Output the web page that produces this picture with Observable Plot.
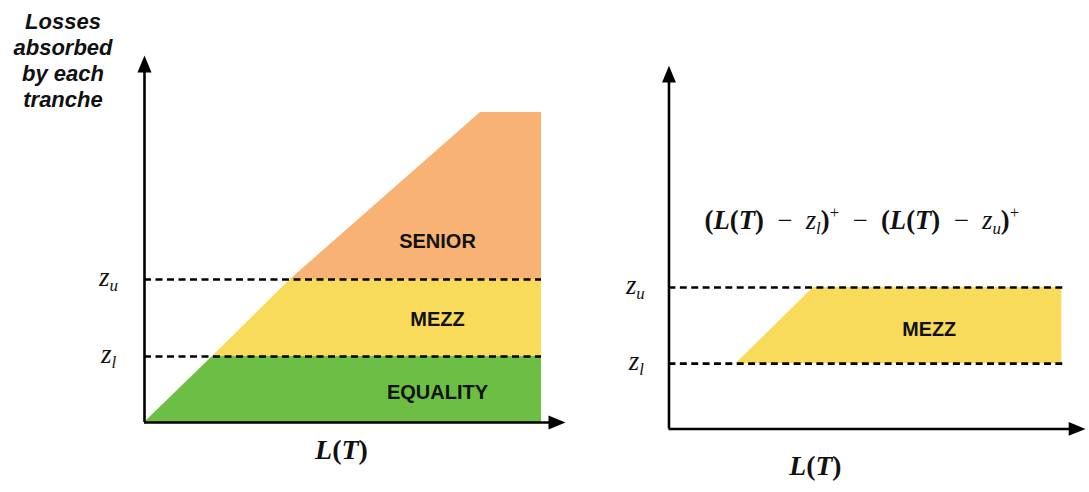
<!DOCTYPE html>
<html><head><meta charset="utf-8">
<script src="https://cdn.jsdelivr.net/npm/d3@7"></script>
<script src="https://cdn.jsdelivr.net/npm/@observablehq/plot@0.6"></script>
<style>
html,body{margin:0;padding:0;background:#fff;overflow:hidden;}
#wrap{position:relative;width:1089px;height:492px;overflow:hidden;}
.panel{position:absolute;top:0;}
#title{position:absolute;left:0;top:9px;width:126px;text-align:center;font:italic bold 22px/26px "Liberation Sans",Arial,sans-serif;color:#111;}
</style></head><body>
<div id="wrap">
  <div id="title">Losses<br>absorbed<br>by each<br>tranche</div>
  <div class="panel" id="left" style="left:0"></div>
  <div class="panel" id="right" style="left:526px"></div>
</div>
<script>
// ---- data (units of loss L(T)) ----
const lossX = [0, 68, 146, 336, 397];      // L(T)
const lossY = [0, 66, 143, 310, 310];      // total losses absorbed (capped by pool)
const zl = 66;                              // lower attachment
const zu = 143;                             // upper attachment
const xAxisMax = 421;
const yAxisMax = 367;
const trancheNames = ["EQUALITY", "MEZZ", "SENIOR"];
const trancheColors = ["#6DBE45", "#F9DB5B", "#F8B273"];

const pts = lossX.map((x, i) => ({x, y: lossY[i]}));
const clamp = (v, a, b) => Math.max(a, Math.min(b, v));

const arrowUp = {draw(c){ c.moveTo(0,0); c.lineTo(-7,17); c.lineTo(7,17); c.closePath(); }};
const arrowRight = {draw(c){ c.moveTo(0,0); c.lineTo(-17,-7); c.lineTo(-17,7); c.closePath(); }};

function axesMarks() {
  return [
    Plot.ruleX([0], {y1: 0, y2: yAxisMax - 8, stroke: "#000", strokeWidth: 2.6}),
    Plot.ruleY([0], {x1: 0, x2: xAxisMax - 8, stroke: "#000", strokeWidth: 2.6}),
    Plot.dot([{x: 0, y: yAxisMax}], {x: "x", y: "y", symbol: arrowUp, fill: "#000", stroke: "none"}),
    Plot.dot([{x: xAxisMax, y: 0}], {x: "x", y: "y", symbol: arrowRight, fill: "#000", stroke: "none"})
  ];
}
const dashStyle = {stroke: "#000", strokeWidth: 2.6, strokeDasharray: "7,4.5"};
const labelFont = {fontFamily: "Liberation Sans, Arial, sans-serif", fontWeight: "bold", fontSize: 20, fill: "#111"};
const mathFont = {fontFamily: "Liberation Serif, serif", fontSize: 27, fill: "#111"};

// ---- left panel ----
const left = Plot.plot({
  width: 569, height: 492,
  marginLeft: 144, marginRight: 4, marginTop: 55, marginBottom: 70,
  x: {domain: [0, xAxisMax], axis: null},
  y: {domain: [0, yAxisMax], axis: null},
  style: {background: "transparent", overflow: "visible"},
  marks: [
    Plot.areaY(pts, {x: "x", y1: 0, y2: d => Math.min(d.y, zl), fill: trancheColors[0]}),
    Plot.areaY(pts, {x: "x", y1: zl, y2: d => clamp(d.y, zl, zu), fill: trancheColors[1]}),
    Plot.areaY(pts, {x: "x", y1: zu, y2: d => Math.max(d.y, zu), fill: trancheColors[2]}),
    Plot.ruleY([zl, zu], {x1: 0, x2: lossX[lossX.length - 1], ...dashStyle}),
    ...axesMarks(),
    Plot.text([trancheNames[2]], {x: 293, y: 181, ...labelFont}),
    Plot.text([trancheNames[1]], {x: 293, y: (zl + zu) / 2 - 2, ...labelFont}),
    Plot.text([trancheNames[0]], {x: 293, y: zl / 2 - 3, ...labelFont}),
    Plot.text(["§ZU"], {x: -36, y: zu + 2, ...mathFont}),
    Plot.text(["§ZL"], {x: -36, y: zl + 2, ...mathFont}),
    Plot.text(["§LT"], {x: 197, y: -28, ...mathFont, fontSize: 28})
  ]
});
document.getElementById("left").appendChild(left);

// ---- right panel: mezzanine payoff ----
const right = Plot.plot({
  width: 569, height: 492,
  marginLeft: 144, marginRight: 4, marginTop: 66, marginBottom: 59,
  x: {domain: [0, xAxisMax], axis: null},
  y: {domain: [0, yAxisMax], axis: null},
  style: {background: "transparent", overflow: "visible"},
  marks: [
    Plot.areaY(pts, {x: "x", y1: zl, y2: d => clamp(d.y, zl, zu), fill: trancheColors[1]}),
    Plot.ruleY([zl, zu], {x1: 0, x2: lossX[lossX.length - 1] + 3, ...dashStyle}),
    ...axesMarks(),
    Plot.text([trancheNames[1]], {x: 263, y: (zl + zu) / 2 - 4, ...labelFont}),
    Plot.text(["§ZU"], {x: -34, y: zu + 2, ...mathFont}),
    Plot.text(["§ZL"], {x: -33, y: zl + 2, ...mathFont}),
    Plot.text(["§LT"], {x: 148, y: -38, ...mathFont, fontSize: 28}),
    Plot.text(["§F"], {x: 195, y: 211, ...mathFont, fontSize: 27})
  ]
});
document.getElementById("right").appendChild(right);

// ---- math typesetting via tspans ----
const B = s => `<tspan font-weight="bold">${s}</tspan>`;
const BI = s => `<tspan font-weight="bold" font-style="italic">${s}</tspan>`;
const I = s => `<tspan font-style="italic">${s}</tspan>`;
const LofT = BI("L") + B("(") + BI("T") + B(")");
const sp = "\u2002\u2212\u2002";
const math = {
  "§ZU": I("z") + `<tspan font-style="italic" font-size="17" dy="5">u</tspan>`,
  "§ZL": I("z") + `<tspan font-style="italic" font-size="17" dy="5">l</tspan>`,
  "§LT": LofT,
  "§F": B("(") + LofT + `<tspan>${sp}</tspan>` + I("z") +
        `<tspan font-style="italic" font-size="17" dy="5">l</tspan>` +
        `<tspan font-weight="bold" dy="-5">)</tspan>` +
        `<tspan font-size="17" dy="-11">+</tspan>` +
        `<tspan dy="11">${sp}</tspan>` +
        B("(") + LofT + `<tspan>${sp}</tspan>` + I("z") +
        `<tspan font-style="italic" font-size="17" dy="5">u</tspan>` +
        `<tspan font-weight="bold" dy="-5">)</tspan>` +
        `<tspan font-size="17" dy="-11">+</tspan>`
};
document.querySelectorAll("svg text").forEach(t => {
  const k = t.textContent;
  if (math[k]) t.innerHTML = math[k];
});
</script>
</body></html>
